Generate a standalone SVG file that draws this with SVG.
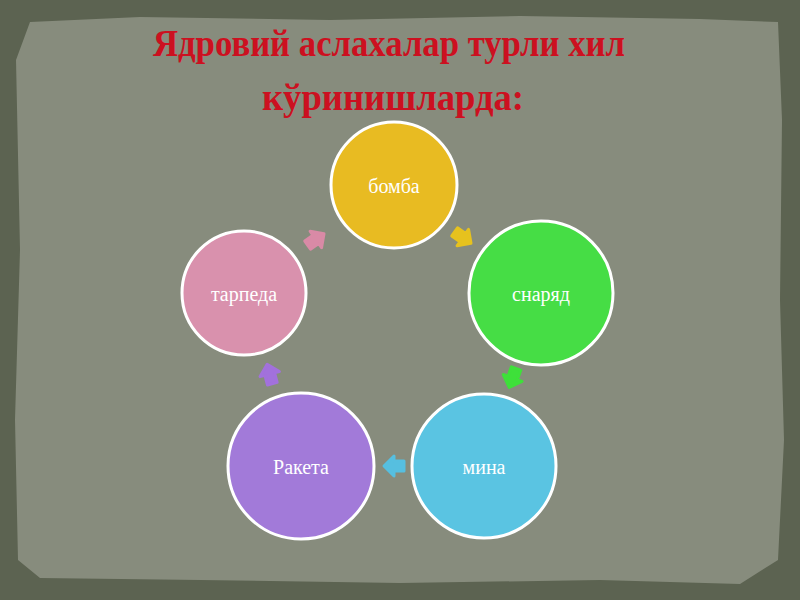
<svg xmlns="http://www.w3.org/2000/svg" width="800" height="600" viewBox="0 0 800 600">
<defs>
<style>
.node circle{stroke:#fff;stroke-width:3}
.node text{font-family:"Liberation Serif","DejaVu Serif",serif;font-size:20px;fill:#fff;text-anchor:middle;dominant-baseline:central}
.title{font-family:"Liberation Serif","DejaVu Serif",serif;font-weight:bold;fill:#cc1020;text-anchor:middle;font-size:37px}
</style>
<path id="arr" d="M-9,-5 L1,-5 L1,-10 L11,0 L1,10 L1,5 L-9,5 Z" stroke-linejoin="round"/>
</defs>
<rect width="800" height="600" fill="#5c6351"/>
<path d="M30,22 L140,17 L330,20 L520,16 L700,19 L778,22 L782,120 L780,300 L784,440 L778,560 L740,584 L600,580 L400,583 L200,580 L40,578 L18,560 L15,420 L20,250 L16,60 Z" fill="#878c7d"/>
<text class="title" x="389" y="56" textLength="472" lengthAdjust="spacingAndGlyphs">Ядровий аслахалар турли хил</text>
<text class="title" x="393" y="110" textLength="262" lengthAdjust="spacingAndGlyphs">кўринишларда:</text>
<g id="connectors">
<use href="#arr" transform="translate(315,240) rotate(-35)" fill="#d98aa6" stroke="#d98aa6" stroke-width="3"/>
<use href="#arr" transform="translate(462,237) rotate(35)" fill="#e6c21e" stroke="#e6c21e" stroke-width="3"/>
<use href="#arr" transform="translate(513,377) rotate(110)" fill="#3ee03a" stroke="#3ee03a" stroke-width="3"/>
<use href="#arr" transform="translate(395,466) rotate(180)" fill="#56bfe0" stroke="#56bfe0" stroke-width="3"/>
<use href="#arr" transform="translate(270,375) rotate(-105)" fill="#a271dc" stroke="#a271dc" stroke-width="3"/>
</g>
<g id="node-bomba" class="node"><circle cx="394" cy="185" r="63" fill="#e8bb22"/><text x="394" y="186">бомба</text></g>
<g id="node-snaryad" class="node"><circle cx="541" cy="293" r="72" fill="#46dd45"/><text x="541" y="294">снаряд</text></g>
<g id="node-mina" class="node"><circle cx="484" cy="466" r="72" fill="#5ac4e2"/><text x="484" y="467">мина</text></g>
<g id="node-raketa" class="node"><circle cx="301" cy="466" r="73" fill="#a27ad9"/><text x="301" y="467">Ракета</text></g>
<g id="node-tarpeda" class="node"><circle cx="244" cy="293" r="62" fill="#d991ad"/><text x="244" y="294">тарпеда</text></g>
</svg>
